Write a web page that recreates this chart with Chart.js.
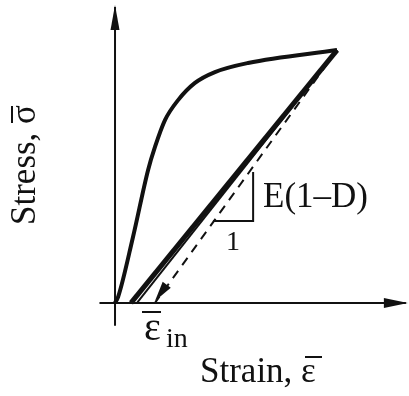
<!DOCTYPE html>
<html>
<head>
<meta charset="utf-8">
<script src="https://cdn.jsdelivr.net/npm/chart.js@4"></script>
<style>
  html,body{margin:0;padding:0;background:#fff;}
  #wrap{width:409px;height:396px;position:relative;}
</style>
</head>
<body>
<div id="wrap"><canvas id="stressChart" width="409" height="396"></canvas></div>
<script>
// normalised strain / stress (peak = 1)
const loadStrain = [0, 0.014, 0.081, 0.149, 0.180, 0.225, 0.284, 0.360, 0.450, 0.599, 1.0];
const loadStress = [0, 0.024, 0.261, 0.526, 0.617, 0.723, 0.802, 0.870, 0.913, 0.949, 1.0];
const unloadStrain = [1.0, 0.072], unloadStress = [1.0, 0];
const reloadStrain = [1.0, 0.099], reloadStress = [1.0, 0];
const epsIn = 0.18;
const elasticStrain = [1.0, epsIn], elasticStress = [1.0, 0];
const triStrain = [0.441, 0.622, 0.622], triStress = [0.324, 0.324, 0.518];
const axisXStrain = [-0.07, 1.31], axisYStress = [-0.09, 1.17];

const ink = "#111";
const serif = '"Liberation Serif", "DejaVu Serif", serif';
const pts = (xs, ys) => xs.map((x, i) => ({x: x, y: ys[i]}));

function arrowHead(ctx, tx, ty, fx, fy, len, half){
  const a = Math.atan2(ty - fy, tx - fx);
  ctx.beginPath();
  ctx.moveTo(tx, ty);
  ctx.lineTo(tx - len*Math.cos(a) + half*Math.sin(a), ty - len*Math.sin(a) - half*Math.cos(a));
  ctx.lineTo(tx - len*Math.cos(a) - half*Math.sin(a), ty - len*Math.sin(a) + half*Math.cos(a));
  ctx.closePath(); ctx.fill();
}

const decor = {
  id: "decor",
  afterDatasetsDraw(chart){
    const {ctx, scales:{x, y}} = chart;
    ctx.save();
    ctx.fillStyle = ink; ctx.strokeStyle = ink;
    // axis arrowheads
    arrowHead(ctx, x.getPixelForValue(0), y.getPixelForValue(axisYStress[1]) - 2, x.getPixelForValue(0), y.getPixelForValue(0), 25, 4.5);
    arrowHead(ctx, x.getPixelForValue(axisXStrain[1]) + 2, y.getPixelForValue(0), x.getPixelForValue(0), y.getPixelForValue(0), 24, 5);
    // unloading arrowhead
    arrowHead(ctx, x.getPixelForValue(epsIn), y.getPixelForValue(0) - 2, x.getPixelForValue(1), y.getPixelForValue(1), 20, 5);

    ctx.textBaseline = "alphabetic";
    ctx.font = "35px " + serif;
    ctx.fillText("E(1\u2013D)", 263, 207);
    ctx.font = "28px " + serif;
    ctx.fillText("1", 226, 250);
    // eps_in
    ctx.font = "40px " + serif;
    ctx.fillText("\u03b5", 144, 340);
    ctx.font = "28px " + serif;
    ctx.fillText("in", 166, 347);
    ctx.lineWidth = 2;
    ctx.beginPath(); ctx.moveTo(142, 312); ctx.lineTo(161, 312); ctx.stroke();
    // x title
    ctx.font = "35px " + serif;
    ctx.fillText("Strain, \u03b5", 200, 382);
    ctx.beginPath(); ctx.moveTo(305, 357); ctx.lineTo(322, 357); ctx.stroke();
    // y title
    ctx.translate(35, 225);
    ctx.rotate(-Math.PI/2);
    ctx.fillText("Stress, \u03c3", 0, 0);
    const w = ctx.measureText("Stress, ").width;
    const sw = ctx.measureText("\u03c3").width;
    ctx.beginPath(); ctx.moveTo(w + 1, -23); ctx.lineTo(w + sw - 1, -23); ctx.stroke();
    ctx.restore();
  }
};

new Chart(document.getElementById("stressChart"), {
  type: "scatter",
  data: {
    datasets: [
      {data: pts([0, 0], axisYStress), borderWidth: 2},
      {data: pts(axisXStrain, [0, 0]), borderWidth: 2},
      {data: pts(loadStrain, loadStress), borderWidth: 4, cubicInterpolationMode: "monotone"},
      {data: pts(unloadStrain, unloadStress), borderWidth: 5},
      {data: pts(reloadStrain, reloadStress), borderWidth: 2},
      {data: pts(elasticStrain, elasticStress), borderWidth: 2, borderDash: [9, 7]},
      {data: pts(triStrain, triStress), borderWidth: 2}
    ].map(d => Object.assign({showLine: true, pointRadius: 0, borderColor: ink, clip: false, borderCapStyle: "butt"}, d))
  },
  options: {
    responsive: false,
    animation: false,
    layout: {padding: 0},
    plugins: {legend: {display: false}, tooltip: {enabled: false}},
    scales: {
      x: {type: "linear", display: false, min: -0.518, max: 1.324},
      y: {type: "linear", display: false, min: -0.368, max: 1.198}
    }
  },
  plugins: [decor]
});
</script>
</body>
</html>
